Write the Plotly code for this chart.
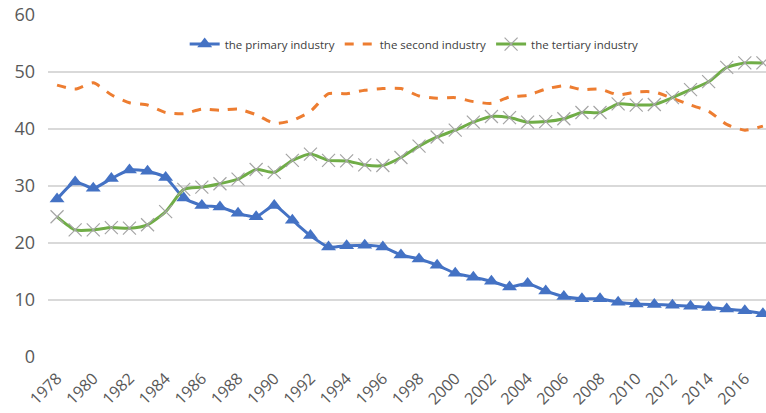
import plotly.graph_objects as go

years = list(range(1978, 2018))
primary = [27.7, 30.7, 29.6, 31.3, 32.8, 32.6, 31.5, 27.9, 26.6, 26.3,
           25.2, 24.6, 26.6, 24.0, 21.3, 19.3, 19.5, 19.6, 19.3, 17.9,
           17.2, 16.1, 14.7, 14.0, 13.3, 12.3, 12.9, 11.6, 10.6, 10.2,
           10.2, 9.6, 9.3, 9.2, 9.1, 8.9, 8.7, 8.4, 8.1, 7.6]
second = [47.7, 47.0, 48.1, 46.0, 44.6, 44.2, 42.9, 42.7, 43.5, 43.3,
          43.5, 42.5, 41.0, 41.5, 43.1, 46.2, 46.2, 46.8, 47.1, 47.1,
          45.8, 45.4, 45.5, 44.8, 44.5, 45.6, 45.9, 47.0, 47.6, 46.9,
          47.0, 46.0, 46.5, 46.5, 45.4, 44.2, 43.1, 40.8, 39.8, 40.5]
tertiary = [24.6, 22.3, 22.3, 22.7, 22.6, 23.2, 25.5, 29.4, 29.8, 30.4,
            31.2, 32.9, 32.4, 34.5, 35.6, 34.5, 34.4, 33.7, 33.6, 35.0,
            37.0, 38.6, 39.8, 41.2, 42.2, 42.0, 41.2, 41.3, 41.8, 42.9,
            42.9, 44.4, 44.2, 44.3, 45.5, 46.9, 48.3, 50.8, 51.6, 51.6]
tick_years = list(range(1978, 2017, 2))
names = ["the primary industry", "the second industry", "the tertiary industry"]

fig = go.Figure()
fig.add_trace(go.Scatter(
    x=years, y=primary, name=names[0], mode="lines+markers",
    line=dict(color="#4472C4", width=3, shape="spline", smoothing=0.6),
    marker=dict(symbol="triangle-up", size=13, color="#4472C4"),
))
fig.add_trace(go.Scatter(
    x=years, y=second, name=names[1], mode="lines",
    line=dict(color="#ED7D31", width=3, dash="dash", shape="spline", smoothing=0.6),
))
fig.add_trace(go.Scatter(
    x=years, y=tertiary, name=names[2], mode="lines+markers",
    line=dict(color="#70AD47", width=3, shape="spline", smoothing=0.6),
    marker=dict(symbol="x-thin", size=13, line=dict(color="#A5A5A5", width=1.2)),
))

fig.update_layout(
    width=766, height=413,
    margin=dict(l=48, r=0, t=15, b=56),
    paper_bgcolor="white", plot_bgcolor="white",
    font=dict(family="Open Sans, Noto Sans, sans-serif", color="#595959"),
    showlegend=True,
    legend=dict(orientation="h", x=0.51, xanchor="center", y=0.915, yanchor="middle",
                font=dict(size=11.5, color="#404040"), bgcolor="rgba(0,0,0,0)",
                itemwidth=30, tracegroupgap=0),
)
fig.update_xaxes(
    range=[1977.5, 2017.17], tickmode="array", tickvals=tick_years,
    ticktext=[str(y) for y in tick_years], tickangle=-45,
    tickfont=dict(size=16, color="#595959"), showgrid=False, zeroline=False,
    showline=False, ticks="", automargin=False, ticklabelstandoff=8,
)
fig.update_yaxes(
    range=[0, 60], dtick=10, tick0=0, showgrid=True, gridcolor="#D9D9D9",
    gridwidth=1.5, zeroline=False, showline=False,
    tickfont=dict(size=18, color="#595959"), ticks="", ticklen=0,
    automargin=False, ticklabelstandoff=12,
)
fig.write_html("out.html", config={"displayModeBar": False},
               post_script="document.body.style.margin='0';document.body.style.overflow='hidden';")
